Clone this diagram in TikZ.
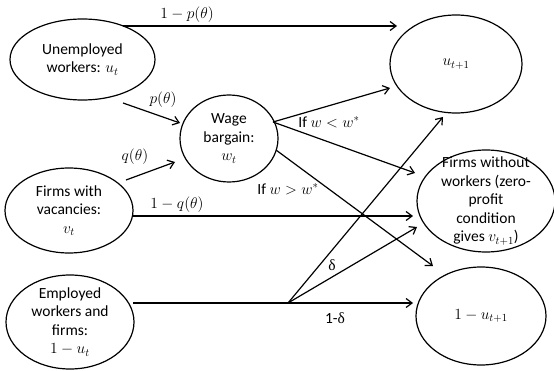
\RequirePackage{fix-cm}
\documentclass[tikz,border=0pt]{standalone}
\usepackage{fontspec}
\setmainfont{Carlito}
\newfontfamily\grk{Liberation Serif}
\usetikzlibrary{shapes.geometric,arrows.meta}
\begin{document}
\begin{tikzpicture}[x=1pt,y=-1pt,
  every node/.style={font=\fontsize{15.5}{18.5}\selectfont},
  ell/.style={draw, line width=1.2pt, ellipse, inner sep=0pt},
  txt/.style={align=center, inner sep=0pt},
  arr/.style={line width=1.2pt, -{Straight Barb[length=6pt,width=9pt]}},
  ln/.style={line width=1.2pt},
  lab/.style={inner sep=1pt}]
\useasboundingbox (0,0) rectangle (554,371);

% left column
\node[ell, minimum width=145pt, minimum height=81pt,
      label={[txt]center:{Unemployed\\workers: $u_t$}}] (un) at (82.5,59.5) {};
\node[ell, minimum width=128pt, minimum height=85pt,
      label={[txt]center:{Firms with\\vacancies:\\$v_t$}}] (fv) at (69,210.5) {};
\node[ell, minimum width=128pt, minimum height=94pt,
      label={[txt]center:{Employed\\workers and\\firms:\\$1-u_t$}}] (ew) at (70,322) {};
% middle
\node[ell, minimum width=98pt, minimum height=87pt,
      label={[txt]center:{Wage\\bargain:\\$w_t$}}] (wb) at (229,138.5) {};
% right column
\node[ell, minimum width=132pt, minimum height=98pt,
      label={[txt]center:{$u_{t+1}$}}] (ut) at (456,64) {};
\node[ell, minimum width=138pt, minimum height=102pt,
      label={[txt]center:{Firms without\\workers (zero-\\profit\\condition\\gives $v_{t+1}$)}}] (fw) at (486,201) {};
\node[ell, minimum width=130pt, minimum height=98pt,
      label={[txt]center:{$1-u_{t+1}$}}] (ou) at (481,316) {};

% connectors from the unemployed and the firms with vacancies
\draw[arr] ([shift={(40.5,-33.5)}]un.center) -- ([shift={(-59,-38)}]ut.center);
\draw[arr] ([shift={(40.5,43.5)}]un.center) -- ([shift={(-49,-15.5)}]wb.center);
\draw[arr] ([shift={(57,-30.5)}]fv.center) -- ([shift={(-54,23.5)}]wb.center);
\draw[arr] ([shift={(64,5.5)}]fv.center) -- ([shift={(-73,15)}]fw.center);

% connectors from the wage bargain
\draw[arr] ([shift={(44,-16.5)}]wb.center) -- ([shift={(-66,24)}]ut.center);
\draw[arr] ([shift={(44,-16.5)}]wb.center) -- ([shift={(-71,-28)}]fw.center);
\draw[arr] ([shift={(47,11.5)}]wb.center) -- ([shift={(-48,-50)}]ou.center);

% connectors from the employed
\coordinate (sp) at (288,303);
\draw[ln] ([shift={(63,-19)}]ew.center) -- (sp);
\draw[arr] (sp) -- ([shift={(-68,-13)}]ou.center);
\draw[arr] (sp) -- ([shift={(-69,26)}]fw.center);
\draw[arr] (sp) -- ([shift={(-13,53)}]ut.center);

% labels
\node[lab] (l1) at (187,15) {$1-p(\theta)$};
\node[lab] (l2) at (163,100) {$p(\theta)$};
\node[lab] (l3) at (135,157) {$q(\theta)$};
\node[lab] (l4) at (177,205) {$1-q(\theta)$};
\node[lab] (l5) at (329,122) {If $w<w^{*}$};
\node[lab] (l6) at (288,189) {If $w>w^{*}$};
\node[lab] (l7) at (332,265) {{\grk δ}};
\node[lab] (l8) at (335,318) {1-{\grk δ}};
\end{tikzpicture}
\end{document}
